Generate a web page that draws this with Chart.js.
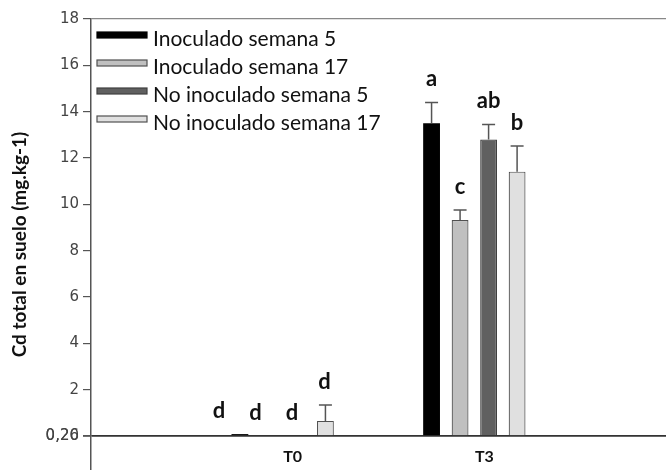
<!DOCTYPE html>
<html>
<head>
<meta charset="utf-8">
<script src="https://cdn.jsdelivr.net/npm/chart.js@4/dist/chart.umd.min.js"></script>
<style>
  html, body { margin: 0; padding: 0; background: #fff; }
  #wrap { width: 666px; height: 470px; }
</style>
</head>
<body>
<div id="wrap"><canvas id="c" width="666" height="470"></canvas></div>
<script>
// Treatments on the x axis (empty slots pad both ends of the axis)
const categories = ['', 'T0', 'T3', ''];
const seriesNames = ['Inoculado semana 5', 'Inoculado semana 17', 'No inoculado semana 5', 'No inoculado semana 17'];

// Mean total Cd in soil (mg.kg-1)
const inoc5 = [null, 0.08, 13.5, null];
const inoc17 = [null, 0, 9.32, null];
const noInoc5 = [null, 0, 12.8, null];
const noInoc17 = [null, 0.65, 11.41, null];

// Upper error (standard error)
const inoc5Err = [null, 0, 0.9, null];
const inoc17Err = [null, 0, 0.43, null];
const noInoc5Err = [null, 0, 0.65, null];
const noInoc17Err = [null, 0.69, 1.11, null];

// Significance letters
const inoc5Letters = ['', 'd', 'a', ''];
const inoc17Letters = ['', 'd', 'c', ''];
const noInoc5Letters = ['', 'd', 'ab', ''];
const noInoc17Letters = ['', 'd', 'b', ''];

// Y axis ticks
const yTickValues = [0, 0, 2, 4, 6, 8, 10, 12, 14, 16, 18];
const yTickLabels = ['0,20', '0,26', '2', '4', '6', '8', '10', '12', '14', '16', '18'];

const fills = ['#000000', '#c0c0c0', '#606060', '#e0e0e0'];
const edges = ['#000000', '#505050', '#404040', '#505050'];

const values = [inoc5, inoc17, noInoc5, noInoc17];
const errors = [inoc5Err, inoc17Err, noInoc5Err, noInoc17Err];
const letters = [inoc5Letters, inoc17Letters, noInoc5Letters, noInoc17Letters];

// Error whiskers and letters above each bar
const annotate = {
  id: 'annotate',
  afterDatasetsDraw(chart, args, opts) {
    const ctx = chart.ctx;
    const y = chart.scales.y;
    ctx.save();
    chart.data.datasets.forEach((ds, di) => {
      const meta = chart.getDatasetMeta(di);
      meta.data.forEach((bar, i) => {
        const v = ds.data[i];
        if (v === null || v === undefined) return;
        const e = errors[di][i] || 0;
        const top = y.getPixelForValue(v + e);
        if (e > 0) {
          ctx.strokeStyle = '#555';
          ctx.lineWidth = 1.5;
          ctx.beginPath();
          ctx.moveTo(bar.x, y.getPixelForValue(v));
          ctx.lineTo(bar.x, top);
          ctx.moveTo(bar.x - 6.5, top);
          ctx.lineTo(bar.x + 6.5, top);
          ctx.stroke();
        }
        const txt = letters[di][i];
        if (txt) {
          const shift = (opts.shift[i] || [0, 0, 0, 0])[di];
          ctx.fillStyle = '#111';
          ctx.font = 'bold 22px Lato';
          ctx.textAlign = 'center';
          ctx.textBaseline = 'alphabetic';
          ctx.fillText(txt, bar.x + shift, top - 16);
        }
      });
    });
    ctx.restore();
  }
};

// Category names under the zero line
const xNames = {
  id: 'xNames',
  afterDraw(chart, args, opts) {
    const ctx = chart.ctx;
    const x = chart.scales.x;
    const y = chart.scales.y;
    ctx.save();
    ctx.fillStyle = '#111';
    ctx.font = 'bold 16px Lato';
    ctx.textAlign = 'center';
    ctx.textBaseline = 'middle';
    categories.forEach((name, i) => {
      if (!name) return;
      ctx.fillText(name, x.getPixelForValue(i) + opts.offset, y.getPixelForValue(-0.9));
    });
    ctx.restore();
  }
};

// Legend drawn inside the plot area, top-left
const boxLegend = {
  id: 'boxLegend',
  afterDraw(chart) {
    const ctx = chart.ctx;
    ctx.save();
    chart.data.datasets.forEach((ds, i) => {
      const cy = 35 + i * 28;
      ctx.fillStyle = ds.backgroundColor;
      ctx.strokeStyle = ds.borderColor;
      ctx.lineWidth = 1.2;
      ctx.fillRect(97, cy - 3, 50, 6);
      ctx.strokeRect(97, cy - 3, 50, 6);
      ctx.fillStyle = '#111';
      ctx.font = '21px Lato';
      ctx.textAlign = 'left';
      ctx.textBaseline = 'alphabetic';
      ctx.fillText(ds.label, 153, cy + 11);
    });
    ctx.restore();
  }
};

new Chart(document.getElementById('c'), {
  type: 'bar',
  data: {
    labels: categories,
    datasets: seriesNames.map((name, i) => ({
      label: name,
      data: values[i],
      backgroundColor: fills[i],
      borderColor: edges[i],
      borderWidth: i === 0 ? 0 : 1.2,
      categoryPercentage: 0.595,
      barPercentage: 0.59
    }))
  },
  options: {
    responsive: false,
    animation: false,
    layout: { padding: { top: 19, right: -8, bottom: 0, left: 0 } },
    plugins: {
      legend: { display: false },
      tooltip: { enabled: false },
      annotate: { shift: { 1: [-21, -13, -5, -1] } },
      xNames: { offset: 10 }
    },
    scales: {
      x: {
        type: 'category',
        offset: false,
        grid: { display: false, drawTicks: false },
        border: { display: false },
        ticks: { display: false },
        afterFit(scale) {
          scale.height = 0;
          scale.paddingLeft = 0;
          scale.paddingRight = 0;
        }
      },
      y: {
        min: -1.47,
        max: 18,
        afterBuildTicks(scale) {
          scale.ticks = yTickValues.map(v => ({ value: v }));
        },
        afterFit(scale) {
          scale.width = 91;
          scale.paddingTop = 0;
          scale.paddingBottom = 0;
        },
        ticks: {
          color: '#444',
          font: { family: 'DejaVu Sans', size: 15 },
          padding: 4,
          callback: (v, idx) => yTickLabels[idx]
        },
        grid: {
          drawOnChartArea: true,
          tickLength: 8,
          tickColor: '#555',
          color: c => c.tick && c.tick.value === 0 ? '#333' : (c.tick && c.tick.value === 18 ? '#888' : 'rgba(0,0,0,0)'),
          lineWidth: c => c.tick && c.tick.value === 0 ? 1.6 : 1.2
        },
        border: { display: true, color: '#555', width: 1.5 },
        title: {
          display: true,
          text: 'Cd total en suelo (mg.kg-1)',
          color: '#111',
          font: { family: 'Lato', weight: 'bold', size: 19 },
          padding: { top: 8, bottom: 0 }
        }
      }
    }
  },
  plugins: [annotate, xNames, boxLegend]
});
</script>
</body>
</html>
